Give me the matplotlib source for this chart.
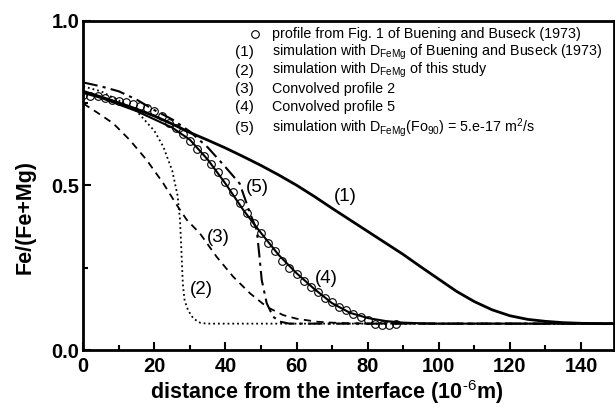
import numpy as np
import matplotlib
matplotlib.use("Agg")
import matplotlib.pyplot as plt
from matplotlib.ticker import MultipleLocator

plt.rcParams["font.family"] = ["Liberation Sans", "DejaVu Sans"]
plt.rcParams["mathtext.fontset"] = "custom"
plt.rcParams["mathtext.rm"] = "Liberation Sans"
plt.rcParams["mathtext.bf"] = "Liberation Sans:bold"

# ── Datos ────────────────────────────────────────────────────────────────────

# perfil medido (círculos)
prof_x = [0, 2, 4, 6, 8, 10, 12, 14, 16, 18, 20, 22, 24, 26, 28, 30, 32, 34,
          36, 38, 40, 42, 44, 46, 48, 50, 52, 54, 56, 58, 60, 62, 64, 66, 68,
          70, 72, 74, 76, 78, 80, 82, 84, 86, 88]
prof_y = [0.775, 0.772, 0.770, 0.765, 0.760, 0.757, 0.752, 0.748, 0.742,
          0.735, 0.725, 0.710, 0.690, 0.675, 0.655, 0.635, 0.610, 0.590,
          0.565, 0.540, 0.510, 0.480, 0.445, 0.415, 0.385, 0.355, 0.325,
          0.300, 0.270, 0.250, 0.230, 0.210, 0.190, 0.175, 0.158, 0.145,
          0.130, 0.120, 0.110, 0.100, 0.090, 0.080, 0.077, 0.075, 0.078]

# (1) simulación con D de Buening y Buseck
c1_x = [0, 5, 10, 15, 20, 25, 30, 35, 40, 45, 50, 55, 60, 65, 70, 75, 80,
        85, 90, 95, 100, 105, 110, 115, 120, 125, 130, 135, 140, 145, 150]
c1_y = [0.785, 0.768, 0.750, 0.731, 0.710, 0.686, 0.660, 0.637, 0.613,
        0.587, 0.560, 0.531, 0.500, 0.466, 0.430, 0.395, 0.360, 0.325,
        0.290, 0.252, 0.215, 0.178, 0.147, 0.122, 0.104, 0.093, 0.087,
        0.083, 0.081, 0.080, 0.080]

# (2) simulación con D de este estudio
c2_x = [0, 5, 10, 15, 20, 22.5, 25, 26.5, 27.2, 27.6, 28, 28.5, 29.5, 31,
        33, 35, 150]
c2_y = [0.800, 0.785, 0.757, 0.725, 0.665, 0.617, 0.545, 0.470, 0.395,
        0.300, 0.200, 0.150, 0.120, 0.095, 0.082, 0.080, 0.080]

# (3) perfil 2 convolucionado
c3_x = [0, 4, 8.4, 13.1, 17.8, 22.5, 26.3, 29.1, 32.8, 37.5, 42.2, 46.9,
        51.6, 56.2, 60, 65.6, 70, 75, 85, 150]
c3_y = [0.748, 0.720, 0.688, 0.637, 0.577, 0.506, 0.440, 0.395, 0.354,
        0.283, 0.222, 0.172, 0.131, 0.106, 0.095, 0.086, 0.083, 0.081,
        0.080, 0.080]

# (4) perfil 5 convolucionado
c4_x = [0, 5, 10, 15, 20, 25, 30, 35, 40, 45, 50, 55, 60, 65, 70, 75, 80,
        85, 90, 95, 100, 150]
c4_y = [0.780, 0.765, 0.745, 0.725, 0.700, 0.675, 0.638, 0.578, 0.505,
        0.425, 0.355, 0.288, 0.233, 0.185, 0.142, 0.113, 0.097, 0.088,
        0.083, 0.081, 0.080, 0.080]

# (5) simulación con D(Fo90) = 5e-17
c5_x = [0, 5, 10, 15, 20, 25, 30, 35, 40, 44, 46.9, 48.8, 49.5, 50.2, 51.6,
        53.4, 55.3, 58, 150]
c5_y = [0.812, 0.800, 0.785, 0.760, 0.728, 0.700, 0.663, 0.615, 0.555,
        0.505, 0.415, 0.364, 0.290, 0.212, 0.142, 0.101, 0.086, 0.080, 0.080]

LEGEND_TAGS = ["", "(1)", "(2)", "(3)", "(4)", "(5)"]
LEGEND_TEXT = [
    "profile from Fig. 1 of Buening and Buseck (1973)",
    r"simulation with D$_{\rm FeMg}$ of Buening and Buseck (1973)",
    r"simulation with D$_{\rm FeMg}$ of this study",
    "Convolved profile 2",
    "Convolved profile 5",
    r"simulation with D$_{\rm FeMg}$(Fo$_{90}$) = 5.e-17 m$^2$/s",
]

# ── Figura ───────────────────────────────────────────────────────────────────

W, H = 615, 407
fig = plt.figure(figsize=(W / 100, H / 100), dpi=100)
ax = fig.add_axes([83.3 / W, 1 - 350 / H, (614 - 83.3) / W, (350 - 20.5) / H])

ax.plot(c1_x, c1_y, "-", color="black", lw=2.0)
ax.plot(c2_x, c2_y, ":", color="black", lw=1.3)
ax.plot(c3_x, c3_y, "--", color="black", lw=1.3, dashes=(4, 3))
ax.plot(c4_x, c4_y, "-", color="black", lw=1.5)
ax.plot(c5_x, c5_y, "-.", color="black", lw=1.5, dashes=(7, 2.5, 1.5, 2.5))
ax.plot(prof_x, prof_y, "o", mfc="none", mec="black", ms=5.5, mew=0.8)

# etiquetas de las curvas
for lbl, x, y in [("(1)", 73.6, 0.465), ("(5)", 48.9, 0.492),
                  ("(3)", 38.0, 0.342), ("(4)", 68.5, 0.218),
                  ("(2)", 33.3, 0.185)]:
    ax.text(x, y, lbl, ha="center", va="center", fontsize=13.5)

ax.set_xlim(0, 149.3)
ax.set_ylim(0, 1.0)
ax.xaxis.set_major_locator(MultipleLocator(20))
ax.xaxis.set_minor_locator(MultipleLocator(10))
ax.yaxis.set_major_locator(MultipleLocator(0.5))
ax.yaxis.set_minor_locator(MultipleLocator(0.25))
ax.tick_params(which="both", direction="in", width=1.5)
ax.tick_params(which="major", length=6, labelsize=14.5)
ax.tick_params(axis="x", which="major", pad=5)
ax.tick_params(axis="y", which="major", pad=3)
ax.tick_params(which="minor", length=3.5)
for t in ax.get_xticklabels() + ax.get_yticklabels():
    t.set_fontweight("bold")
for sp in ax.spines.values():
    sp.set_linewidth(2)

fig.text(25 / W, 1 - 217 / H, "Fe/(Fe+Mg)", rotation=90, ha="center",
         va="center", fontsize=15.5, fontweight="bold")
fig.text(327 / W, 1 - 392 / H,
         r"distance from the interface (10$^{\mathbf{\text{-6}}}$m)",
         ha="center", va="center", fontsize=15.5, fontweight="bold")

# leyenda manual
leg_y = [34, 52, 70.7, 89.3, 106.7, 127.7]
for i, (tag, txt, yy) in enumerate(zip(LEGEND_TAGS, LEGEND_TEXT, leg_y)):
    if i == 0:
        fig.lines.append(plt.Line2D([255 / W], [1 - yy / H], marker="o",
                                    mfc="none", mec="black", ms=5.5, mew=0.8,
                                    transform=fig.transFigure))
    else:
        fig.text(244 / W, 1 - yy / H, tag, ha="center", va="center",
                 fontsize=11)
    fig.text(272 / W, 1 - yy / H, txt, ha="left", va="center", fontsize=10.3)

fig.savefig("out.png", dpi=100)
